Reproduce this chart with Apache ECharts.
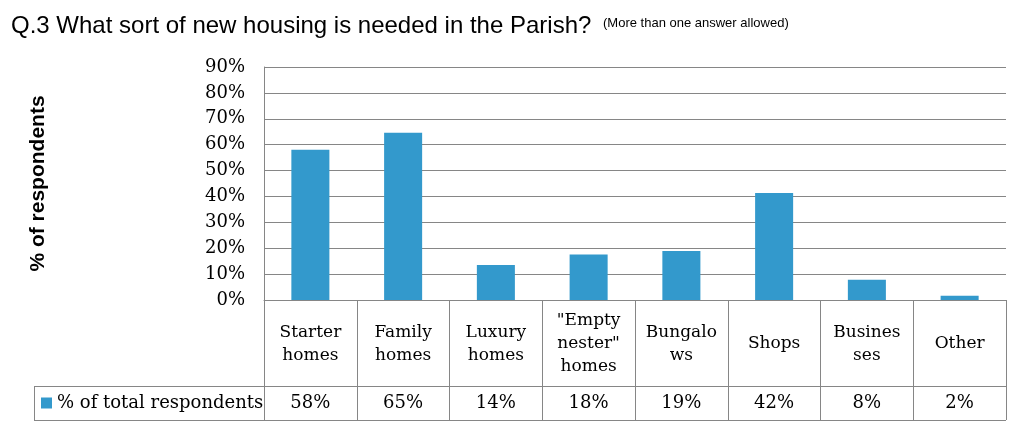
<!DOCTYPE html>
<html>
<head>
<meta charset="utf-8">
<script src="https://cdn.jsdelivr.net/npm/echarts@6/dist/echarts.min.js"></script>
<style>
html,body{margin:0;padding:0;background:#fff;}
#chart{width:1025px;height:444px;}
</style>
</head>
<body>
<div id="chart"></div>
<script>
// ---- data ----
const titleText = 'Q.3 What sort of new housing is needed in the Parish?';
const subtitleText = '(More than one answer allowed)';
const yAxisTitle = '% of respondents';
const seriesName = '% of total respondents';
const categories = ['Starter\nhomes', 'Family\nhomes', 'Luxury\nhomes', '"Empty\nnester"\nhomes', 'Bungalo\nws', 'Shops', 'Busines\nses', 'Other'];
const values = [58.0, 64.6, 13.5, 17.6, 18.9, 41.3, 7.8, 1.6];
const tableLabels = ['58%', '65%', '14%', '18%', '19%', '42%', '8%', '2%'];
const yMin = 0, yMax = 90, yStep = 10;

// ---- chart ----
const gridColor = '#868686';
const serif = 'DejaVu Serif';
const chart = echarts.init(document.getElementById('chart'), null, {renderer: 'canvas'});
chart.setOption({
  animation: false,
  backgroundColor: '#ffffff',
  title: [
    {text: titleText, left: 11, top: 13, padding: 0, textStyle: {fontFamily: 'Liberation Sans', fontSize: 24, fontWeight: 'normal', color: '#000', lineHeight: 26}},
    {text: subtitleText, left: 603, top: 16, padding: 0, textStyle: {fontFamily: 'Liberation Sans', fontSize: 13, fontWeight: 'normal', color: '#000', lineHeight: 14}}
  ],
  legend: {
    data: [seriesName], left: 41, top: 393, padding: 0, icon: 'rect', itemWidth: 11, itemHeight: 11, itemGap: 5,
    textStyle: {fontFamily: serif, fontSize: 18, color: '#000', lineHeight: 20, padding: [0, 0, 0, 0]}
  },
  grid: {left: 264, right: 19, top: 67, bottom: 144, containLabel: false},
  xAxis: [
    {
      type: 'category', data: categories, position: 'bottom',
      axisLine: {show: true, lineStyle: {color: gridColor, width: 1}},
      axisTick: {show: true, length: 120, interval: 0, lineStyle: {color: gridColor, width: 1}},
      axisLabel: {interval: 0, margin: 44, verticalAlign: 'middle', fontFamily: serif, fontSize: 17, lineHeight: 23, color: '#000'}
    },
    {
      type: 'category', data: tableLabels, position: 'bottom', offset: 86,
      axisLine: {show: false}, axisTick: {show: false},
      axisLabel: {interval: 0, margin: 17, verticalAlign: 'middle', fontFamily: serif, fontSize: 18, color: '#000'}
    }
  ],
  yAxis: {
    type: 'value', min: yMin, max: yMax, interval: yStep,
    name: yAxisTitle, nameLocation: 'middle', nameGap: 215, nameRotate: 90,
    nameTextStyle: {fontFamily: 'Liberation Sans', fontSize: 21, fontWeight: 'bold', color: '#000'},
    axisLine: {show: true, lineStyle: {color: gridColor, width: 1}},
    axisTick: {show: false},
    axisLabel: {formatter: '{value}%', margin: 19, fontFamily: serif, fontSize: 18, color: '#000'},
    splitLine: {show: true, lineStyle: {color: gridColor, width: 1}}
  },
  series: [{
    name: seriesName, type: 'bar', xAxisIndex: 0, data: values, barWidth: '41%',
    itemStyle: {color: '#3399cc'}
  }],
  graphic: [
    {type: 'line', shape: {x1: 34, y1: 386.5, x2: 1006, y2: 386.5}, style: {stroke: gridColor, lineWidth: 1}},
    {type: 'line', shape: {x1: 34, y1: 420.5, x2: 1006, y2: 420.5}, style: {stroke: gridColor, lineWidth: 1}},
    {type: 'line', shape: {x1: 34.5, y1: 386, x2: 34.5, y2: 421}, style: {stroke: gridColor, lineWidth: 1}}
  ]
});
</script>
</body>
</html>
